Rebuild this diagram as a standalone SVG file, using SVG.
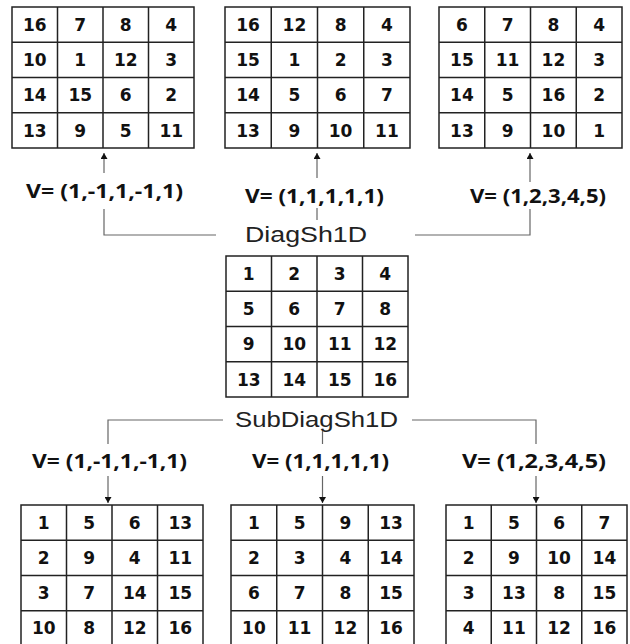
<svg xmlns="http://www.w3.org/2000/svg" width="630" height="644" viewBox="0 0 630 644">
<defs>
<style>
.cell{fill:#fff;stroke:#222;stroke-width:1.5}
.gl{fill:none;stroke:#222;stroke-width:1.5}
.n{font-family:"DejaVu Sans",Verdana,sans-serif;font-weight:bold;font-size:17px;fill:#111;text-anchor:middle}
.lbl{font-family:"Open Sans","Liberation Sans",sans-serif;font-weight:bold;font-size:20px;fill:#111}
.op{font-family:"Liberation Sans",Arial,sans-serif;font-size:22px;fill:#222}
.c{fill:none;stroke:#666;stroke-width:1.2}
</style>
<marker id="ah" markerUnits="userSpaceOnUse" markerWidth="7" markerHeight="7" refX="6" refY="3.5" orient="auto">
<path d="M0,0 L6,3.5 L0,7 z" fill="#111"/>
</marker>
</defs>
<rect width="630" height="644" fill="#fff"/>

<g id="grid-top-left">
<rect class="cell" x="12" y="7" width="182" height="141"/>
<path class="gl" d="M57.5,7V148M103,7V148M148.5,7V148M12,42.25H194M12,77.5H194M12,112.75H194"/>
<text class="n" x="34.75" y="30.9">16</text><text class="n" x="80.25" y="30.9">7</text><text class="n" x="125.75" y="30.9">8</text><text class="n" x="171.25" y="30.9">4</text>
<text class="n" x="34.75" y="66.2">10</text><text class="n" x="80.25" y="66.2">1</text><text class="n" x="125.75" y="66.2">12</text><text class="n" x="171.25" y="66.2">3</text>
<text class="n" x="34.75" y="101.4">14</text><text class="n" x="80.25" y="101.4">15</text><text class="n" x="125.75" y="101.4">6</text><text class="n" x="171.25" y="101.4">2</text>
<text class="n" x="34.75" y="136.7">13</text><text class="n" x="80.25" y="136.7">9</text><text class="n" x="125.75" y="136.7">5</text><text class="n" x="171.25" y="136.7">11</text>
</g>

<g id="grid-top-middle">
<rect class="cell" x="225" y="7" width="185" height="141"/>
<path class="gl" d="M271.25,7V148M317.5,7V148M363.75,7V148M225,42.25H410M225,77.5H410M225,112.75H410"/>
<text class="n" x="248.1" y="30.9">16</text><text class="n" x="294.4" y="30.9">12</text><text class="n" x="340.6" y="30.9">8</text><text class="n" x="386.9" y="30.9">4</text>
<text class="n" x="248.1" y="66.2">15</text><text class="n" x="294.4" y="66.2">1</text><text class="n" x="340.6" y="66.2">2</text><text class="n" x="386.9" y="66.2">3</text>
<text class="n" x="248.1" y="101.4">14</text><text class="n" x="294.4" y="101.4">5</text><text class="n" x="340.6" y="101.4">6</text><text class="n" x="386.9" y="101.4">7</text>
<text class="n" x="248.1" y="136.7">13</text><text class="n" x="294.4" y="136.7">9</text><text class="n" x="340.6" y="136.7">10</text><text class="n" x="386.9" y="136.7">11</text>
</g>

<g id="grid-top-right">
<rect class="cell" x="439" y="7" width="183" height="141"/>
<path class="gl" d="M484.75,7V148M530.5,7V148M576.25,7V148M439,42.25H622M439,77.5H622M439,112.75H622"/>
<text class="n" x="461.9" y="30.9">6</text><text class="n" x="507.6" y="30.9">7</text><text class="n" x="553.4" y="30.9">8</text><text class="n" x="599.1" y="30.9">4</text>
<text class="n" x="461.9" y="66.2">15</text><text class="n" x="507.6" y="66.2">11</text><text class="n" x="553.4" y="66.2">12</text><text class="n" x="599.1" y="66.2">3</text>
<text class="n" x="461.9" y="101.4">14</text><text class="n" x="507.6" y="101.4">5</text><text class="n" x="553.4" y="101.4">16</text><text class="n" x="599.1" y="101.4">2</text>
<text class="n" x="461.9" y="136.7">13</text><text class="n" x="507.6" y="136.7">9</text><text class="n" x="553.4" y="136.7">10</text><text class="n" x="599.1" y="136.7">1</text>
</g>

<g id="grid-middle">
<rect class="cell" x="226" y="256" width="182" height="141"/>
<path class="gl" d="M271.5,256V397M317,256V397M362.5,256V397M226,291.25H408M226,326.5H408M226,361.75H408"/>
<text class="n" x="248.75" y="279.9">1</text><text class="n" x="294.25" y="279.9">2</text><text class="n" x="339.75" y="279.9">3</text><text class="n" x="385.25" y="279.9">4</text>
<text class="n" x="248.75" y="315.2">5</text><text class="n" x="294.25" y="315.2">6</text><text class="n" x="339.75" y="315.2">7</text><text class="n" x="385.25" y="315.2">8</text>
<text class="n" x="248.75" y="350.4">9</text><text class="n" x="294.25" y="350.4">10</text><text class="n" x="339.75" y="350.4">11</text><text class="n" x="385.25" y="350.4">12</text>
<text class="n" x="248.75" y="385.7">13</text><text class="n" x="294.25" y="385.7">14</text><text class="n" x="339.75" y="385.7">15</text><text class="n" x="385.25" y="385.7">16</text>
</g>

<g id="grid-bottom-left">
<rect class="cell" x="21" y="505" width="182" height="141"/>
<path class="gl" d="M66.5,505V646M112,505V646M157.5,505V646M21,540.25H203M21,575.5H203M21,610.75H203"/>
<text class="n" x="43.75" y="528.9">1</text><text class="n" x="89.25" y="528.9">5</text><text class="n" x="134.75" y="528.9">6</text><text class="n" x="180.25" y="528.9">13</text>
<text class="n" x="43.75" y="564.2">2</text><text class="n" x="89.25" y="564.2">9</text><text class="n" x="134.75" y="564.2">4</text><text class="n" x="180.25" y="564.2">11</text>
<text class="n" x="43.75" y="599.4">3</text><text class="n" x="89.25" y="599.4">7</text><text class="n" x="134.75" y="599.4">14</text><text class="n" x="180.25" y="599.4">15</text>
<text class="n" x="43.75" y="634.2">10</text><text class="n" x="89.25" y="634.2">8</text><text class="n" x="134.75" y="634.2">12</text><text class="n" x="180.25" y="634.2">16</text>
</g>

<g id="grid-bottom-middle">
<rect class="cell" x="231" y="505" width="183" height="141"/>
<path class="gl" d="M276.75,505V646M322.5,505V646M368.25,505V646M231,540.25H414M231,575.5H414M231,610.75H414"/>
<text class="n" x="253.9" y="528.9">1</text><text class="n" x="299.6" y="528.9">5</text><text class="n" x="345.4" y="528.9">9</text><text class="n" x="391.1" y="528.9">13</text>
<text class="n" x="253.9" y="564.2">2</text><text class="n" x="299.6" y="564.2">3</text><text class="n" x="345.4" y="564.2">4</text><text class="n" x="391.1" y="564.2">14</text>
<text class="n" x="253.9" y="599.4">6</text><text class="n" x="299.6" y="599.4">7</text><text class="n" x="345.4" y="599.4">8</text><text class="n" x="391.1" y="599.4">15</text>
<text class="n" x="253.9" y="634.2">10</text><text class="n" x="299.6" y="634.2">11</text><text class="n" x="345.4" y="634.2">12</text><text class="n" x="391.1" y="634.2">16</text>
</g>

<g id="grid-bottom-right">
<rect class="cell" x="446" y="505" width="181" height="141"/>
<path class="gl" d="M491.25,505V646M536.5,505V646M581.75,505V646M446,540.25H627M446,575.5H627M446,610.75H627"/>
<text class="n" x="468.6" y="528.9">1</text><text class="n" x="513.9" y="528.9">5</text><text class="n" x="559.1" y="528.9">6</text><text class="n" x="604.4" y="528.9">7</text>
<text class="n" x="468.6" y="564.2">2</text><text class="n" x="513.9" y="564.2">9</text><text class="n" x="559.1" y="564.2">10</text><text class="n" x="604.4" y="564.2">14</text>
<text class="n" x="468.6" y="599.4">3</text><text class="n" x="513.9" y="599.4">13</text><text class="n" x="559.1" y="599.4">8</text><text class="n" x="604.4" y="599.4">15</text>
<text class="n" x="468.6" y="634.2">4</text><text class="n" x="513.9" y="634.2">11</text><text class="n" x="559.1" y="634.2">12</text><text class="n" x="604.4" y="634.2">16</text>
</g>

<g id="op-diag">
<text class="op" x="245" y="242" textLength="122" lengthAdjust="spacingAndGlyphs">DiagSh1D</text>
</g>
<g id="op-subdiag">
<text class="op" x="235" y="427" textLength="163" lengthAdjust="spacingAndGlyphs">SubDiagSh1D</text>
</g>

<g id="labels">
<text class="lbl" x="26" y="198" textLength="157" lengthAdjust="spacingAndGlyphs">V= (1,-1,1,-1,1)</text>
<text class="lbl" x="245" y="203" textLength="139" lengthAdjust="spacingAndGlyphs">V= (1,1,1,1,1)</text>
<text class="lbl" x="470" y="203" textLength="136" lengthAdjust="spacingAndGlyphs">V= (1,2,3,4,5)</text>
<text class="lbl" x="32" y="468" textLength="155" lengthAdjust="spacingAndGlyphs">V= (1,-1,1,-1,1)</text>
<text class="lbl" x="252" y="468" textLength="137" lengthAdjust="spacingAndGlyphs">V= (1,1,1,1,1)</text>
<text class="lbl" x="462" y="468" textLength="144" lengthAdjust="spacingAndGlyphs">V= (1,2,3,4,5)</text>
</g>

<g id="connectors">
<path class="c" d="M104,173V153" marker-end="url(#ah)"/>
<path class="c" d="M317,178V153" marker-end="url(#ah)"/>
<path class="c" d="M530,182V153" marker-end="url(#ah)"/>
<path class="c" d="M216,235H104V209"/>
<path class="c" d="M317,220V208"/>
<path class="c" d="M415,235H530V209"/>
<path class="c" d="M223,420H108V444"/>
<path class="c" d="M322.5,431V444"/>
<path class="c" d="M412,420H536V444"/>
<path class="c" d="M108,476V503" marker-end="url(#ah)"/>
<path class="c" d="M322.5,476V503" marker-end="url(#ah)"/>
<path class="c" d="M536,476V503" marker-end="url(#ah)"/>
</g>
</svg>
